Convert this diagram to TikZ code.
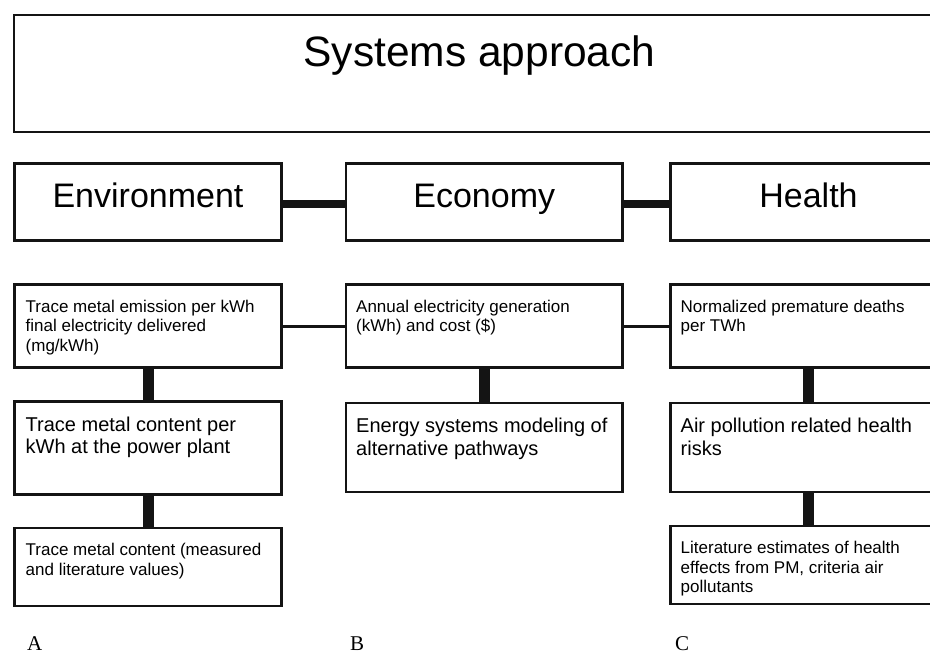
\documentclass[tikz,border=0pt]{standalone}
\usepackage{fontspec}
\setmainfont{Liberation Sans}
\newfontfamily\labserif{Liberation Serif}
\begin{document}
\begin{tikzpicture}[x=1pt,y=-1pt,
  box/.style={draw=black!92, line width=2.6pt, inner sep=0pt, outer sep=0pt, anchor=north west},
  smalltxt/.style={font=\fontsize{17}{19.5}\selectfont, align=left, anchor=north west, inner sep=0pt},
  medtxt/.style={font=\fontsize{20}{22.7}\selectfont, align=left, anchor=north west, inner sep=0pt},
  headtxt/.style={font=\fontsize{34}{37}\selectfont, anchor=base, inner sep=0pt},
  titletxt/.style={font=\fontsize{42.5}{45}\selectfont, anchor=base, inner sep=0pt},
  panel/.style={font=\labserif\fontsize{21}{23}\selectfont, anchor=base west, inner sep=0pt},
  heavylink/.style={draw=black!92, line width=8pt},
  vlink/.style={draw=black!92, line width=11pt},
  thinlink/.style={draw=black!92, line width=3pt}]
\useasboundingbox (0,0) rectangle (930,654);
\clip (0,0) rectangle (930,654);
\fill[white] (0,0) rectangle (930,654);

% top box
\node[box, minimum width=931, minimum height=117] (top) at (14,15) {};
\node[titletxt] (toptxt) at ([shift={(0,51)}]top.north) {Systems approach};

% row 1
\node[box, minimum width=267, minimum height=77] (env) at (14.5,163.5) {};
\node[box, minimum width=276.5, minimum height=77] (eco) at (346,163.5) {};
\node[box, minimum width=276, minimum height=77] (hea) at (670.5,163.5) {};
\node[headtxt] (envtxt) at ([shift={(0,44)}]env.north) {Environment};
\node[headtxt] (ecotxt) at ([shift={(0,44)}]eco.north) {Economy};
\node[headtxt] (heatxt) at ([shift={(0,44)}]hea.north) {Health};
\draw[heavylink] ([yshift=-1.5]env.east) -- ([yshift=-1.5]eco.west);
\draw[heavylink] ([yshift=-1.5]eco.east) -- ([yshift=-1.5]hea.west);

% row 2
\node[box, minimum width=267, minimum height=83] (env2) at (14.5,284.5) {};
\node[box, minimum width=276.5, minimum height=83] (eco2) at (346,284.5) {};
\node[box, minimum width=276, minimum height=83] (hea2) at (670.5,284.5) {};
\node[smalltxt] (env2txt) at ([shift={(11,15)}]env2.north west) {Trace metal emission per kWh\\final electricity delivered\\(mg/kWh)};
\node[smalltxt] (eco2txt) at ([shift={(10,15)}]eco2.north west) {Annual electricity generation\\(kWh) and cost (\$)};
\node[smalltxt] (hea2txt) at ([shift={(10,15)}]hea2.north west) {Normalized premature deaths\\per TWh};
\draw[thinlink] (env2.east) -- (eco2.west);
\draw[thinlink] (eco2.east) -- (hea2.west);

% row 3
\node[box, minimum width=267, minimum height=93] (env3) at (14.5,401.5) {};
\node[box, minimum width=276.5, minimum height=89] (eco3) at (346,403) {};
\node[box, minimum width=276, minimum height=89] (hea3) at (670.5,403) {};
\node[medtxt] (env3txt) at ([shift={(11,15)}]env3.north west) {Trace metal content per\\kWh at the power plant};
\node[medtxt] (eco3txt) at ([shift={(10,15)}]eco3.north west) {Energy systems modeling of\\alternative pathways};
\node[medtxt] (hea3txt) at ([shift={(10,15)}]hea3.north west) {Air pollution related health\\risks};
\draw[vlink] (env2.south) -- (env3.north);
\draw[vlink] (eco2.south) -- (eco3.north);
\draw[vlink] (hea2.south) -- (hea3.north);

% row 4
\node[box, minimum width=267, minimum height=78] (env4) at (14.5,528) {};
\node[box, minimum width=276, minimum height=78] (hea4) at (670.5,526) {};
\node[smalltxt] (env4txt) at ([shift={(11,15)}]env4.north west) {Trace metal content (measured\\and literature values)};
\node[smalltxt] (hea4txt) at ([shift={(10,15)}]hea4.north west) {Literature estimates of health\\effects from PM, criteria air\\pollutants};
\draw[vlink] (env3.south) -- (env4.north);
\draw[vlink] (hea3.south) -- (hea4.north);

% panel letters
\node[panel] (labA) at (27,650) {A};
\node[panel] (labB) at (350,650) {B};
\node[panel] (labC) at (675,650) {C};
\end{tikzpicture}
\end{document}
